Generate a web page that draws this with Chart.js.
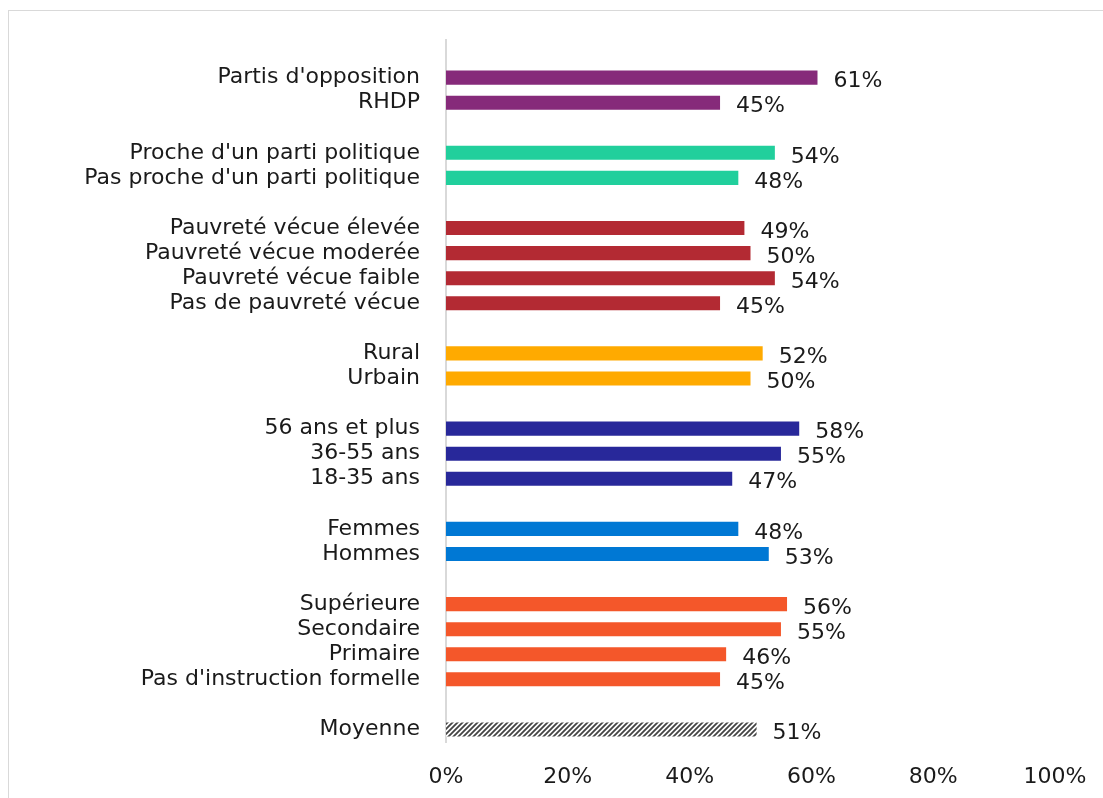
<!DOCTYPE html>
<html>

<head>
    <script src="https://cdn.jsdelivr.net/npm/chart.js"></script>
    <style>
        html,
        body {
            margin: 0px;
            width: 1103px;
            height: 798px;
            overflow: hidden;
            background: #fff;
        }

        .frame {
            position: absolute;
            left: 8px;
            top: 10px;
            width: 1200px;
            height: 900px;
            border: 1px solid #d9d9d9;
        }

        .container {
            position: absolute;
            left: 0px;
            top: 0px;
            width: 1103px;
            height: 798px;
        }
    </style>
</head>

<body>
    <div class="frame"></div>
    <div class="container">
        <canvas id="myChart"></canvas>
    </div>

    <script>
        // '' entries are the gaps between groups
        const categories = ['',
            "Partis d'opposition", 'RHDP', '',
            "Proche d'un parti politique", "Pas proche d'un parti politique", '',
            'Pauvreté vécue élevée', 'Pauvreté vécue moderée', 'Pauvreté vécue faible', 'Pas de pauvreté vécue', '',
            'Rural', 'Urbain', '',
            '56 ans et plus', '36-55 ans', '18-35 ans', '',
            'Femmes', 'Hommes', '',
            'Supérieure', 'Secondaire', 'Primaire', "Pas d'instruction formelle", '',
            'Moyenne'];
        const values = [null,
            61, 45, null,
            54, 48, null,
            49, 50, 54, 45, null,
            52, 50, null,
            58, 55, 47, null,
            48, 53, null,
            56, 55, 46, 45, null,
            51];
        const groups = ['',
            'parti', 'parti', '',
            'proche', 'proche', '',
            'pauv', 'pauv', 'pauv', 'pauv', '',
            'milieu', 'milieu', '',
            'age', 'age', 'age', '',
            'genre', 'genre', '',
            'instr', 'instr', 'instr', 'instr', '',
            'moy'];
        const xTicks = [0, 20, 40, 60, 80, 100];

        const fontFamily = "'DejaVu Sans', sans-serif";
        const groupColors = {
            parti: '#862a7a',
            proche: '#21cf9c',
            pauv: '#b32a33',
            milieu: '#ffaa00',
            age: '#28289a',
            genre: '#0078d4',
            instr: '#f4572a'
        };

        // hatched fill for the average bar
        function hatch() {
            const c = document.createElement('canvas');
            c.width = 5;
            c.height = 5;
            const g = c.getContext('2d');
            g.fillStyle = '#ffffff';
            g.fillRect(0, 0, 5, 5);
            g.strokeStyle = '#444444';
            g.lineWidth = 1.8;
            g.beginPath();
            g.moveTo(-1, 6); g.lineTo(6, -1);
            g.moveTo(-3.5, 3.5); g.lineTo(3.5, -3.5);
            g.moveTo(1.5, 8.5); g.lineTo(8.5, 1.5);
            g.stroke();
            return g.createPattern(c, 'repeat');
        }

        const colors = groups.map(g => g === 'moy' ? hatch() : (groupColors[g] || '#fff'));

        const valueLabels = {
            id: 'valueLabels',
            afterDatasetsDraw(chart) {
                const ctx = chart.ctx;
                const meta = chart.getDatasetMeta(0);
                ctx.save();
                ctx.font = '22px ' + fontFamily;
                ctx.fillStyle = '#1a1a1a';
                ctx.textBaseline = 'middle';
                ctx.textAlign = 'left';
                meta.data.forEach((bar, i) => {
                    if (values[i] === null) return;
                    ctx.fillText(values[i] + '%', bar.x + 16, bar.y + 4);
                });
                ctx.restore();
            }
        };

        var context = document.getElementById('myChart').getContext('2d');
        var chart = new Chart(context, {
            type: 'bar',
            data: {
                labels: categories,
                datasets: [{
                    data: values,
                    backgroundColor: colors,
                    borderWidth: 0,
                    barPercentage: 0.56,
                    categoryPercentage: 1
                }]
            },
            options: {
                indexAxis: 'y',
                responsive: true,
                maintainAspectRatio: false,
                animation: false,
                layout: {
                    padding: { top: 40, right: 48, bottom: 0, left: 0 }
                },
                plugins: {
                    legend: { display: false },
                    tooltip: { enabled: false }
                },
                scales: {
                    x: {
                        min: 0,
                        max: 100,
                        afterBuildTicks: scale => {
                            scale.ticks = xTicks.map(v => ({ value: v }));
                        },
                        afterFit: scale => {
                            scale.height = 56;
                            scale.paddingRight = 0;
                        },
                        grid: { display: false, drawTicks: false },
                        border: { display: false },
                        ticks: {
                            padding: 22,
                            color: '#1a1a1a',
                            font: { size: 22, family: fontFamily },
                            callback: v => v + '%'
                        }
                    },
                    y: {
                        afterFit: scale => { scale.width = 446; },
                        grid: { display: false, drawTicks: false },
                        border: { display: true, color: '#d9d9d9', width: 2 },
                        ticks: {
                            autoSkip: false,
                            padding: 26,
                            color: '#1a1a1a',
                            font: { size: 22, family: fontFamily }
                        }
                    }
                }
            },
            plugins: [valueLabels]
        });
    </script>
</body>

</html>
